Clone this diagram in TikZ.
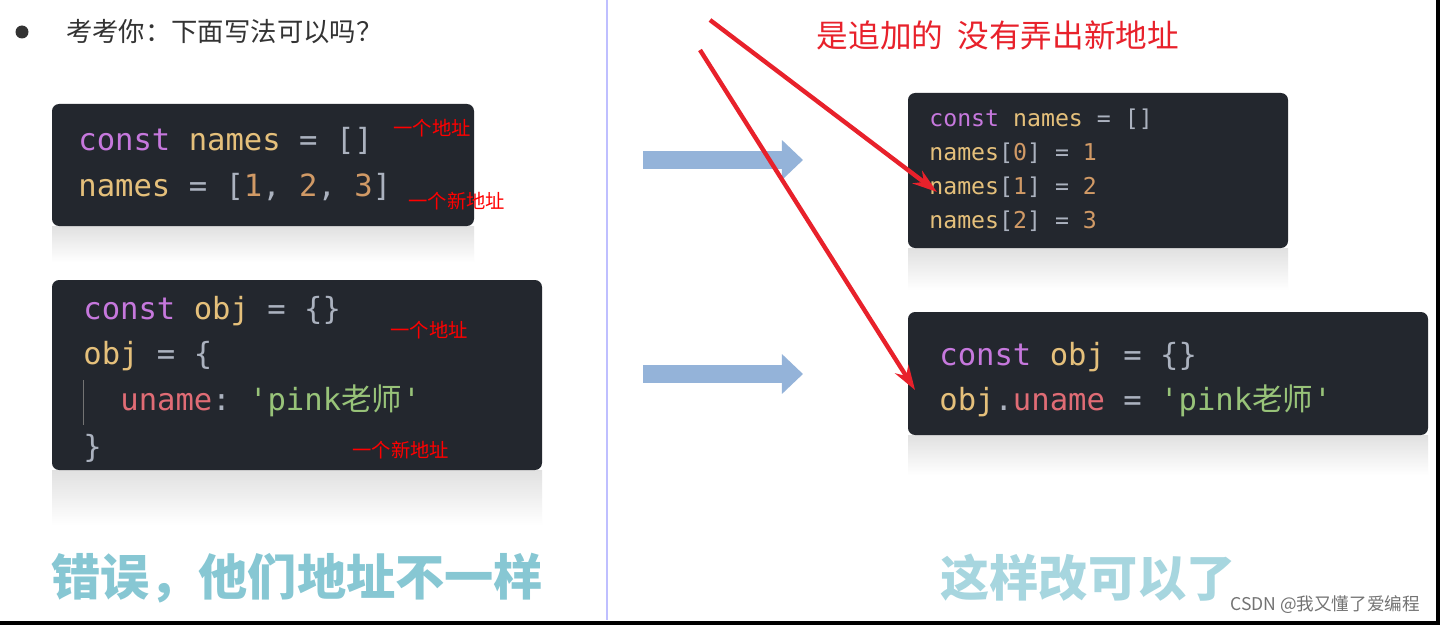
\documentclass[tikz,border=0pt]{standalone}
\usepackage{fontspec}
\setmonofont{DejaVu Sans Mono}
\newfontfamily\cjk{Noto Sans CJK SC}
\usetikzlibrary{arrows.meta,positioning}
\definecolor{codebg}{HTML}{23272E}
\definecolor{kw}{HTML}{C678DD}
\definecolor{var}{HTML}{E5C07B}
\definecolor{num}{HTML}{D19A66}
\definecolor{str}{HTML}{98C379}
\definecolor{op}{HTML}{ABB2BF}
\definecolor{prop}{HTML}{E06C75}
\definecolor{teal}{HTML}{5FB4C4}
\definecolor{arrblue}{HTML}{94B3D9}
\definecolor{markred}{HTML}{E8212B}
\newcommand{\K}[1]{\textcolor{kw}{#1}}
\newcommand{\V}[1]{\textcolor{var}{#1}}
\newcommand{\N}[1]{\textcolor{num}{#1}}
\newcommand{\St}[1]{\textcolor{str}{#1}}
\newcommand{\Op}[1]{\textcolor{op}{#1}}
\newcommand{\Pp}[1]{\textcolor{prop}{#1}}
\begin{document}
\begin{tikzpicture}[x=0.02cm, y=-0.02cm,
    codebox/.style={fill=codebg, rounded corners=4pt},
    shine/.style={top color=black!12, bottom color=white},
    bigcode/.style={anchor=west, font=\fontsize{17.4}{20}\ttfamily, inner sep=0pt},
    smallcode/.style={anchor=west, font=\fontsize{13.2}{16}\ttfamily, inner sep=0pt},
    redlabel/.style={anchor=west, text=red, font=\cjk\fontsize{11}{13}\selectfont, inner sep=0pt},
    slogan/.style={text=teal!75, font=\cjk\bfseries\fontsize{28}{32}\selectfont},
    blueflow/.style={-{Triangle[length=12pt,width=22pt]}, line width=10pt, arrblue},
    redarrow/.style={-{Stealth[length=14pt,width=9pt]}, line width=2.5pt, markred}
    ]
\useasboundingbox (0,0) rectangle (1441,625);
\fill[white] (0,0) rectangle (1441,625);
\draw[black, line width=2pt] (1438,0) -- (1438,623) -- (0,623);
\draw[blue!25, line width=1.5pt] (607,0) -- (607,620);
% left
\fill[black!80] (22,32) circle (6.5);
\node[anchor=west, font=\cjk\fontsize{15}{18}\selectfont, text=black!80] (quiz) at (60,32) {考考你：下面写法可以吗？};
\shade[shine] (52,226) rectangle (474,262);
\fill[codebox] (52,104) rectangle (474,226);
\node[bigcode] (l1) at (78,141) {\K{const} \V{names} \Op{= []}};
\node[bigcode] (l2) at (78,187) {\V{names} \Op{= [}\N{1}\Op{, }\N{2}\Op{, }\N{3}\Op{]}};
\node[redlabel] (a1) at (393,128) {一个地址};
\node[redlabel] (a2) at (408,201) {一个新地址};
\shade[shine] (52,470) rectangle (542,525);
\fill[codebox] (52,280) rectangle (542,470);
\node[bigcode] (o1) at (83,311) {\K{const} \V{obj} \Op{= \{\}}};
\node[bigcode] (o2) at (83,356) {\V{obj} \Op{= \{}};
\node[bigcode] (o3) at (120,401) {\Pp{uname}\Op{:} \St{'pink{\cjk 老师}'}};
\node[bigcode] (o4) at (83,448) {\Op{\}}};
\draw[black!55] (83,380) -- (83,425);
\node[redlabel] (b1) at (390,330) {一个地址};
\node[redlabel] (b2) at (352,450) {一个新地址};
\node[slogan] (wrong) at (297,578) {错误，他们地址不一样};
% arrows
\coordinate (f1) at (643,160); \coordinate (t1) at (803,160);
\coordinate (f2) at (643,374); \coordinate (t2) at (803,374);
\draw[blueflow] (f1) -- (t1);
\draw[blueflow] (f2) -- (t2);
% right
\node[anchor=center, text=markred, font=\cjk\fontsize{18}{22}\selectfont] (note) at (998,35) {是追加的\ \ 没有弄出新地址};
\shade[shine] (908,248) rectangle (1288,290);
\fill[codebox] (908,93) rectangle (1288,248);
\node[smallcode] (n1) at (929,119) {\K{const} \V{names} \Op{= []}};
\node[smallcode] (n2) at (929,153) {\V{names}\Op{[}\N{0}\Op{] =} \N{1}};
\node[smallcode] (n3) at (929,187) {\V{names}\Op{[}\N{1}\Op{] =} \N{2}};
\node[smallcode] (n4) at (929,221) {\V{names}\Op{[}\N{2}\Op{] =} \N{3}};
\shade[shine] (908,435) rectangle (1428,475);
\fill[codebox] (908,312) rectangle (1428,435);
\node[bigcode] (p1) at (939,357) {\K{const} \V{obj} \Op{= \{\}}};
\node[bigcode] (p2) at (939,401) {\V{obj}\Op{.}\Pp{uname} \Op{=} \St{'pink{\cjk 老师}'}};
\node[slogan, text=teal!55] (right) at (1088,578) {这样改可以了};
\coordinate (s1) at (710,20); \coordinate (s2) at (700,50);
\coordinate (e1) at (937,192); \coordinate (e2) at (915,390);
\draw[redarrow] (s1) -- (e1);
\draw[redarrow] (s2) -- (e2);
\node[anchor=east, text=black!55, font=\cjk\fontsize{10}{12}\selectfont] (wmark) at (1426,605) {CSDN @我又懂了爱编程};
\end{tikzpicture}
\end{document}
